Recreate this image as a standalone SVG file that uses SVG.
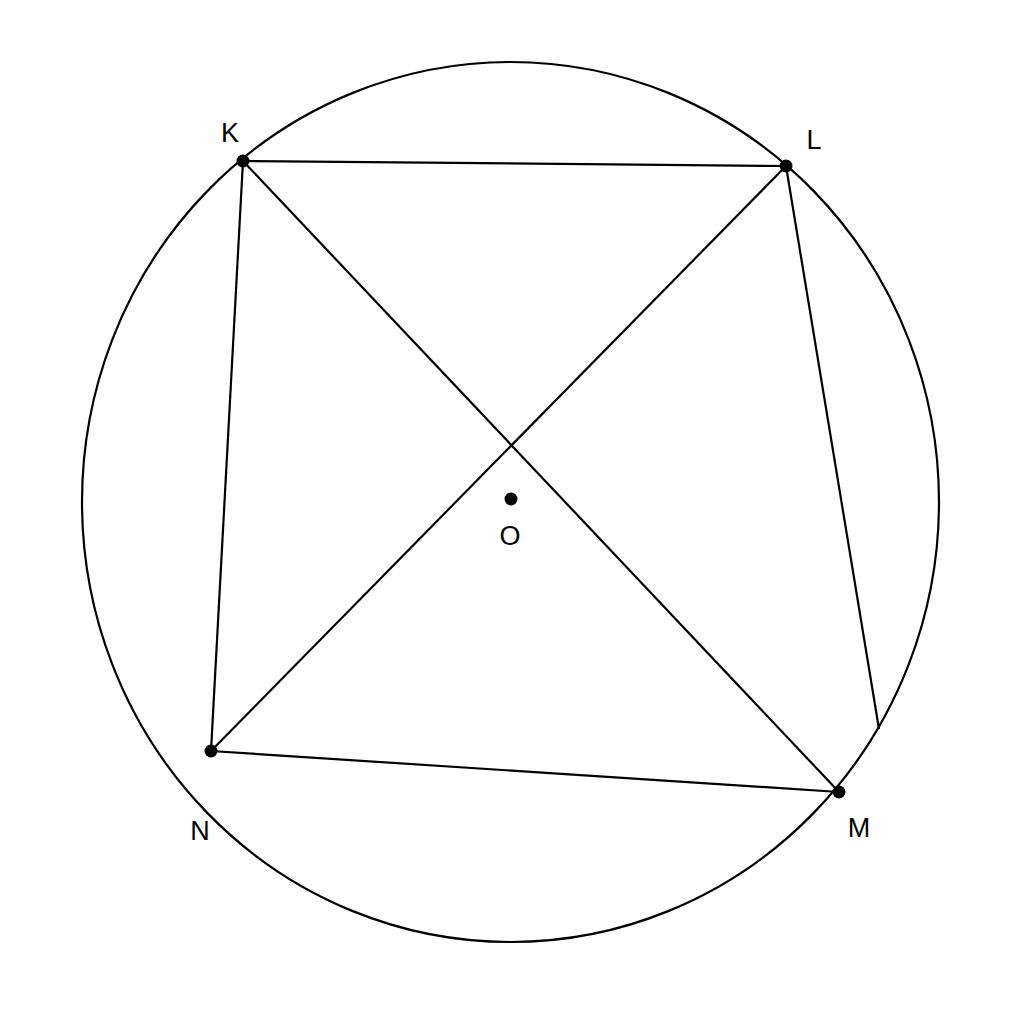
<svg xmlns="http://www.w3.org/2000/svg" width="1024" height="1024" viewBox="0 0 1024 1024">
<style>
.ln{stroke:#000;stroke-width:2.2;fill:none}
.pt{fill:#000}
.lb{font-family:"Liberation Sans",Arial,sans-serif;font-size:27px;fill:#000;text-anchor:middle}
</style>
<rect width="1024" height="1024" fill="#fff"/>
<g id="circle"><ellipse class="ln" cx="510.5" cy="502" rx="428.5" ry="440"/></g>
<g id="connectors">
<line class="ln" x1="243" y1="161" x2="786" y2="166"/>
<line class="ln" x1="786" y1="166" x2="879" y2="729"/>
<line class="ln" x1="839" y1="792" x2="211" y2="751"/>
<line class="ln" x1="211" y1="751" x2="243" y2="161"/>
<line class="ln" x1="243" y1="161" x2="839" y2="792"/>
<line class="ln" x1="786" y1="166" x2="211" y2="751"/>
</g>
<g id="K"><circle class="pt" cx="243" cy="161" r="6.5"/><text class="lb" x="230" y="142">K</text></g>
<g id="L"><circle class="pt" cx="786" cy="166" r="6.5"/><text class="lb" x="814" y="149">L</text></g>
<g id="M"><circle class="pt" cx="839" cy="792" r="6.5"/><text class="lb" x="859" y="837">M</text></g>
<g id="N"><circle class="pt" cx="211" cy="751" r="6.5"/><text class="lb" x="200" y="840">N</text></g>
<g id="O"><circle class="pt" cx="511" cy="499" r="6.5"/><text class="lb" x="510" y="545">O</text></g>
</svg>
